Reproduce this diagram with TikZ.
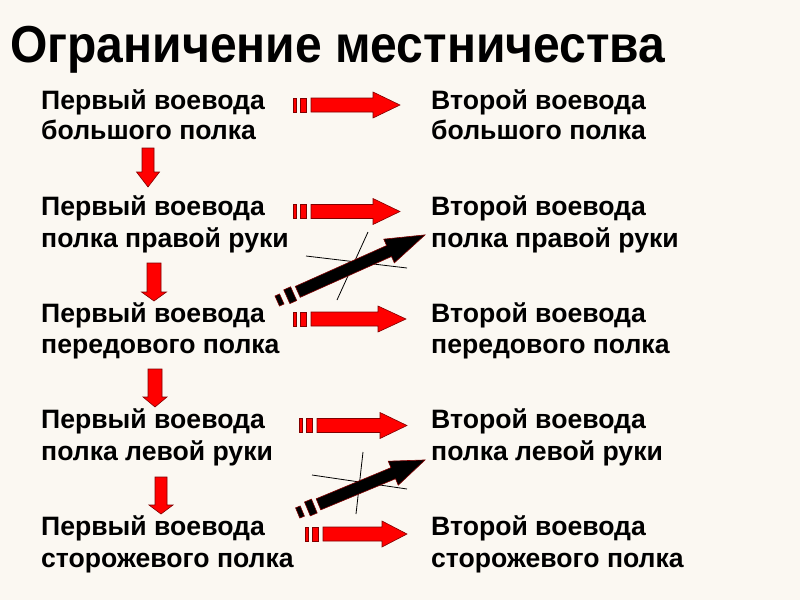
\documentclass[tikz,border=0pt]{standalone}
\usepackage{fontspec}
\setmainfont{Liberation Sans}
\usepackage{graphicx}
\definecolor{bgc}{RGB}{251,248,242}
\definecolor{edgered}{RGB}{128,0,0}
\newcommand\RArrow[4]{% xs, shaft end, tip, y
  \fill[redarr] (#1,#4-7) rectangle ({#1+3.5},#4+7);
  \fill[redarr] ({#1+7.5},#4-7) rectangle ({#1+13.5},#4+7);
  \filldraw[redarr] ({#1+18},#4-7) -- (#2,#4-7) -- (#2,#4-13) -- (#3,#4) -- (#2,#4+13) -- (#2,#4+7) -- ({#1+18},#4+7) -- cycle;}
\newcommand\DArrow[7]{% cx, top, headstart, tip, shaft half, head half
  \filldraw[redarr] ({#1-#5},#2) -- ({#1+#5},#2) -- ({#1+#5},#3) -- ({#1+#6},#3) -- (#1,#4) -- ({#1-#6},#3) -- ({#1-#5},#3) -- cycle;}
\newcommand\BArrow[5]{% x0, y0, angle, headbase, tip
  \begin{scope}[shift={(#1,#2)},rotate=#3]
    \filldraw[blkarr] (-2.5,-5.5) rectangle (2.5,5.5);
    \filldraw[blkarr] (8,-7.5) rectangle (15.5,7.5);
    \filldraw[blkarr] (20,-6) -- (#4,-6) -- (#4,-13) -- (#5,0) -- (#4,13) -- (#4,6) -- (20,6) -- cycle;
  \end{scope}}
\begin{document}
\begin{tikzpicture}[x=1pt,y=-1pt,
  lbl/.style={anchor=base west,inner sep=0pt,font=\fontsize{26.6}{30}\selectfont\bfseries},
  redarr/.style={fill=red,draw=edgered,line width=0.6pt},
  blkarr/.style={fill=black,draw=edgered,line width=0.6pt},
  crossline/.style={draw=black,line width=0.8pt}]
\fill[bgc] (0,0) rectangle (800,600);
\useasboundingbox (0,0) rectangle (800,600);
\node[anchor=base west,inner sep=0pt] (title) at (10,62)
  {\resizebox{655pt}{\height}{\fontsize{52}{52}\selectfont\bfseries Ограничение местничества}};
% left column
\node[lbl] (l1a) at (41,109) {Первый воевода};
\node[lbl] (l1b) at (41,139) {большого полка};
\node[lbl] (l2a) at (41,215) {Первый воевода};
\node[lbl] (l2b) at (41,247) {полка правой руки};
\node[lbl] (l3a) at (41,322) {Первый воевода};
\node[lbl] (l3b) at (41,353) {передового полка};
\node[lbl] (l4a) at (41,428) {Первый воевода};
\node[lbl] (l4b) at (41,460) {полка левой руки};
\node[lbl] (l5a) at (41,535) {Первый воевода};
\node[lbl] (l5b) at (41,567) {сторожевого полка};
% right column
\node[lbl] (r1a) at (431,109) {Второй воевода};
\node[lbl] (r1b) at (431,139) {большого полка};
\node[lbl] (r2a) at (431,215) {Второй воевода};
\node[lbl] (r2b) at (431,247) {полка правой руки};
\node[lbl] (r3a) at (431,322) {Второй воевода};
\node[lbl] (r3b) at (431,353) {передового полка};
\node[lbl] (r4a) at (431,428) {Второй воевода};
\node[lbl] (r4b) at (431,460) {полка левой руки};
\node[lbl] (r5a) at (431,535) {Второй воевода};
\node[lbl] (r5b) at (431,567) {сторожевого полка};
% red right arrows
\RArrow{293}{373}{400}{105}
\RArrow{293}{373}{400}{211.5}
\RArrow{293}{378}{406}{319}
\RArrow{299}{380}{407}{425.5}
\RArrow{305}{382}{407}{534}
% red down arrows
\DArrow{148}{148}{172}{187}{6}{11.5}{}
\DArrow{154}{263}{292}{301}{7}{12.5}{}
\DArrow{155}{369}{397}{407}{7}{12}{}
\DArrow{161}{477}{505}{514}{6}{12}{}
% crossing lines
\draw[crossline] (306,256) -- (407,268);
\draw[crossline] (368,232) -- (337,300);
\draw[crossline] (312,475) -- (407,489);
\draw[crossline] (363,452) -- (356,514);
% black diagonal arrows
\BArrow{279.5}{300}{24.1}{120}{159.5}
\BArrow{300}{512}{22.6}{101}{135.5}
\end{tikzpicture}
\end{document}
